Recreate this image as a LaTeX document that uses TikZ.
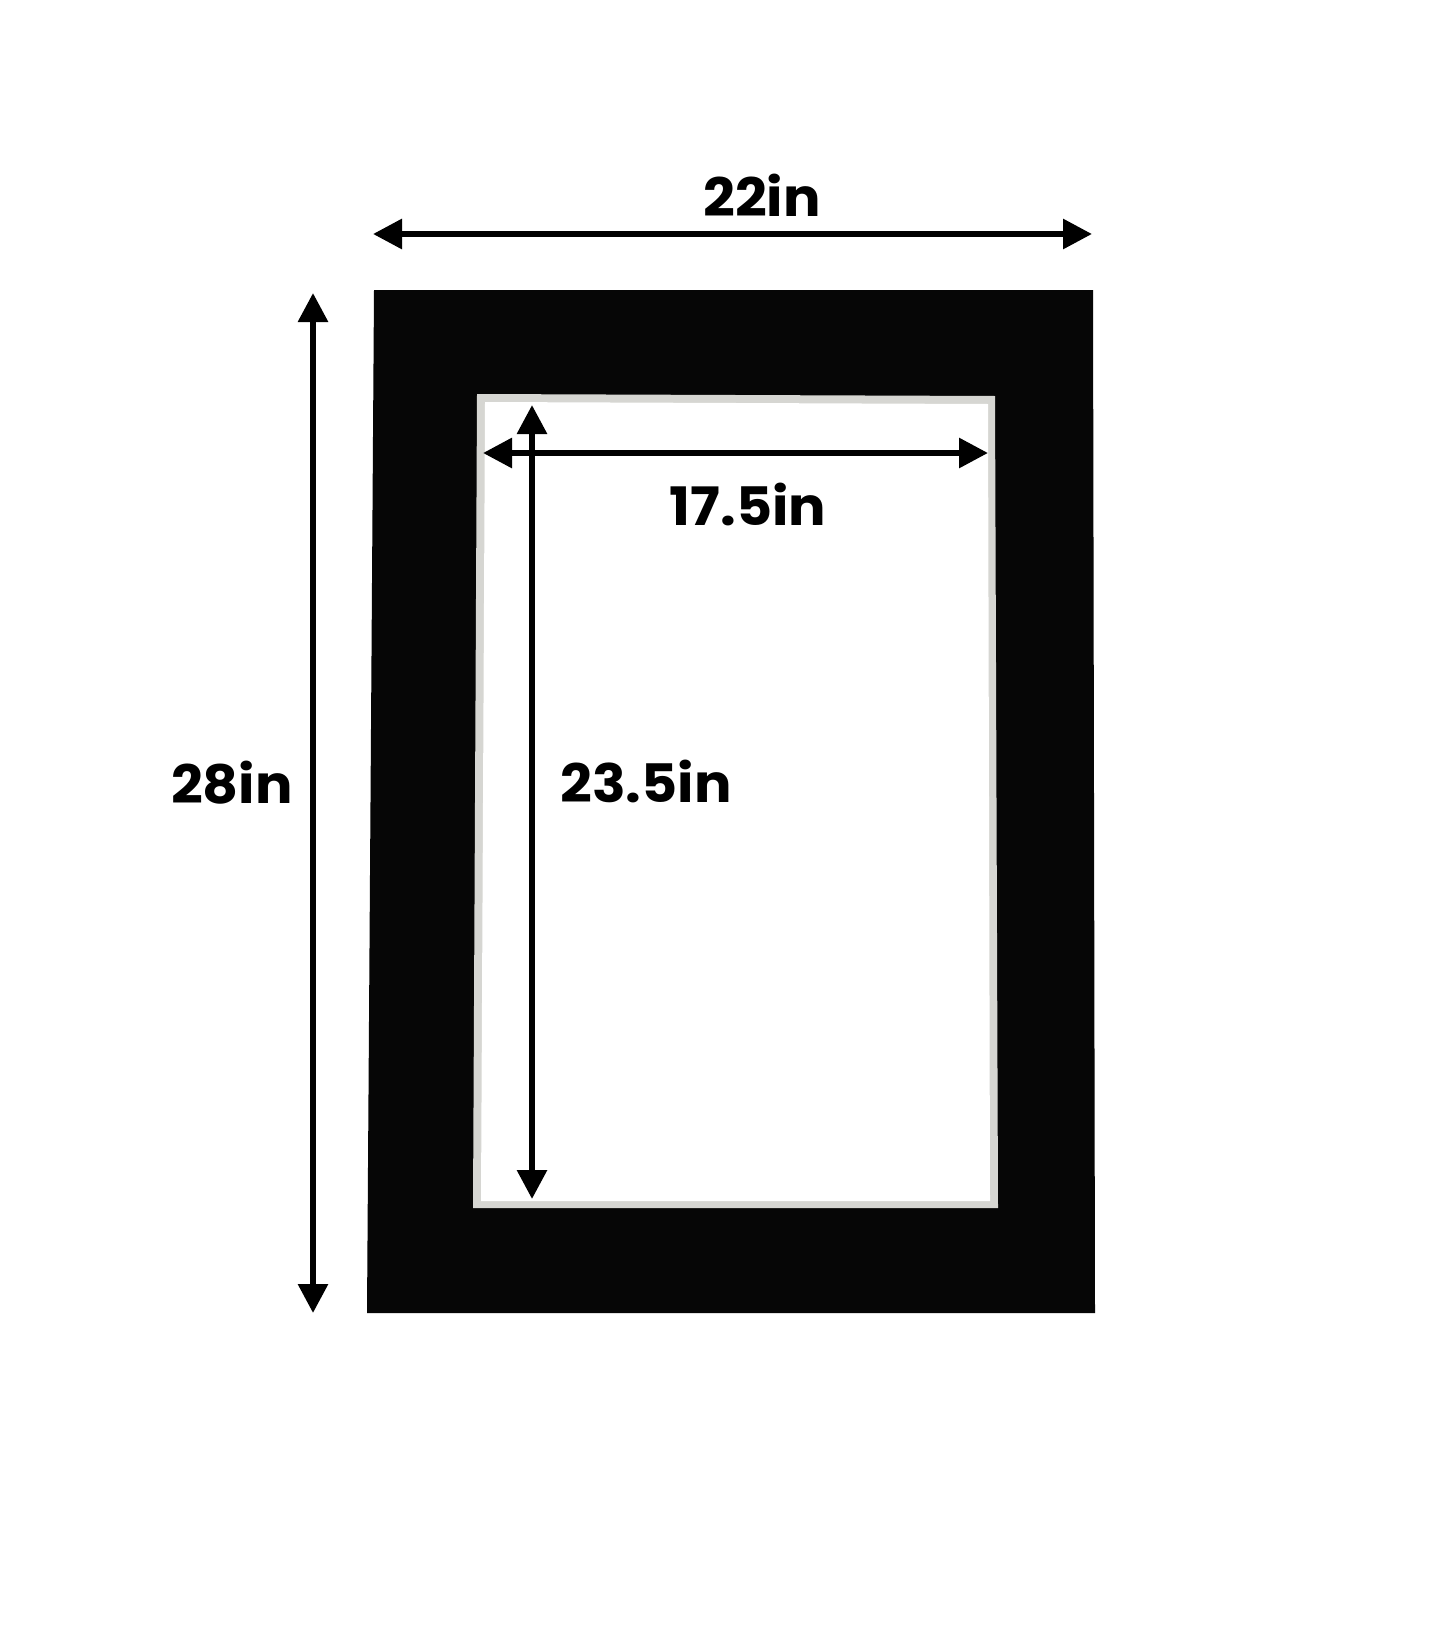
\documentclass[tikz,border=0pt]{standalone}
\usepackage{fontspec}
\setmainfont{Poppins}[BoldFont={* Bold}]
\usetikzlibrary{arrows.meta}
\definecolor{matblack}{HTML}{060606}
\definecolor{bevel}{HTML}{D6D6D2}
\tikzset{
  dimarrow/.style={line width=6pt, {Triangle[length=29pt,width=29pt]}-{Triangle[length=29pt,width=29pt]}},
  dimlabel/.style={font=\fontsize{53}{60}\selectfont\bfseries, inner sep=0pt, text=black, anchor=base}
}
\newcommand{\widetext}[1]{\scalebox{1.05}[1]{#1}}
\begin{document}
\begin{tikzpicture}[x=1pt,y=-1pt]
\useasboundingbox (0,0) rectangle (1445,1645);
\fill[white] (0,0) rectangle (1445,1645);
% mat board
\fill[matblack] (374,290) -- (1093,290) -- (1095,1313) -- (367,1313) -- cycle;
% window bevel
\fill[bevel] (477,394) -- (995,396) -- (998,1208) -- (473,1208) -- cycle;
\fill[white] (485,402) -- (988,404) -- (990,1201) -- (481,1201) -- cycle;
% coordinates for dimension lines
\coordinate (tl) at (373,234);
\coordinate (tr) at (1092,234);
\coordinate (lt) at (313,293);
\coordinate (lb) at (313,1313);
\coordinate (il) at (483,453);
\coordinate (ir) at (988,453);
\coordinate (it) at (532,405);
\coordinate (ib) at (532,1199);
% arrows
\draw[dimarrow] (tl) -- (tr);
\draw[dimarrow] (lt) -- (lb);
\draw[dimarrow] (il) -- (ir);
\draw[dimarrow] (it) -- (ib);
% labels
\node[dimlabel] (w22) at (762,217) {\widetext{22in}};
\node[dimlabel] (h28) at (232,803) {\widetext{28in}};
\node[dimlabel] (w175) at (748,525) {\widetext{17.5in}};
\node[dimlabel] (h235) at (646,802) {\widetext{23.5in}};
\end{tikzpicture}
\end{document}
